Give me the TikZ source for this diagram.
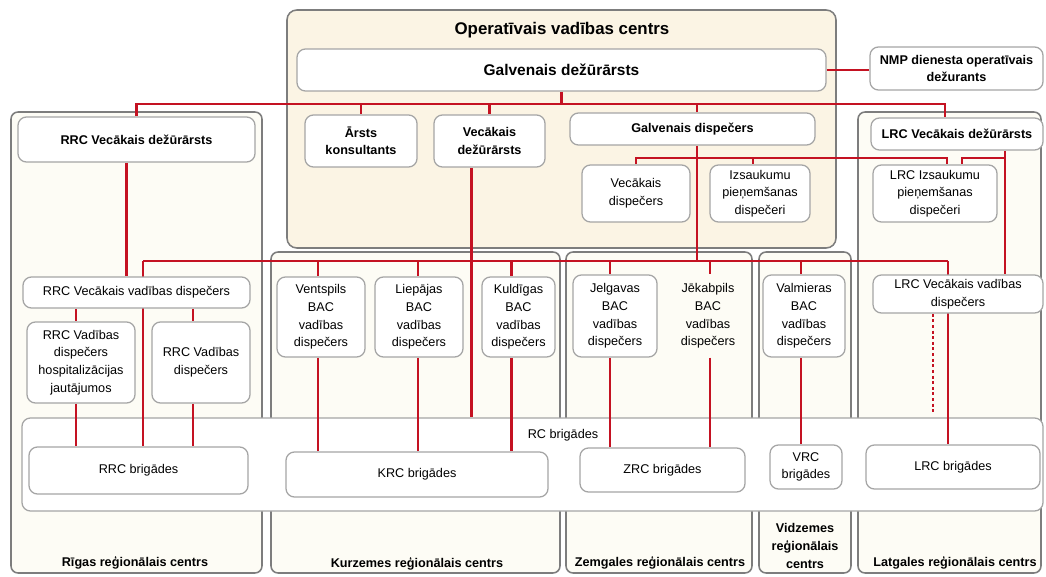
\documentclass[tikz,border=0pt]{standalone}
\usepackage{fontspec}
\setmainfont{Liberation Sans}
\usetikzlibrary{calc}
\definecolor{sarkans}{RGB}{196,18,34}
\definecolor{robeza}{RGB}{125,125,125}
\definecolor{kastemala}{RGB}{165,165,165}
\definecolor{ovcfons}{RGB}{251,244,228}
\definecolor{regfons}{RGB}{253,252,245}
\newlength{\pxl}
\setlength{\pxl}{0.025cm}
\pgfdeclarelayer{fons}
\pgfdeclarelayer{saites}
\pgfsetlayers{fons,saites,main}
\tikzset{
	kaste/.style={draw=kastemala, line width=0.9pt, rounded corners=6pt, fill=white, align=center, inner sep=1pt, font=\fontsize{9}{12.5}\selectfont},
	trekna/.style={kaste, font=\fontsize{9}{12.5}\selectfont\bfseries},
	regions/.style={draw=robeza, line width=1.1pt, rounded corners=5pt, fill=regfons},
	saite/.style={draw=sarkans, line width=2pt},
	punktota/.style={saite, dash pattern=on 2.2pt off 1.8pt},
	nosaukums/.style={font=\fontsize{9}{12.5}\selectfont\bfseries, align=center},
}

\begin{document}
\begin{tikzpicture}[x=\pxl, y=-\pxl]
	\useasboundingbox (0,0) rectangle (1046,577);
	\begin{pgfonlayer}{fons}
		\fill[white] (0,0) rectangle (1046,577);
		\node[regions, minimum width=251\pxl, minimum height=461\pxl] (riga) at (136.5,342.5) {};
		\node[regions, minimum width=289\pxl, minimum height=321\pxl] (kurz) at (415.5,412.5) {};
		\node[regions, minimum width=186\pxl, minimum height=321\pxl] (zemg) at (659,412.5) {};
		\node[regions, minimum width=92\pxl, minimum height=321\pxl] (vidz) at (805,412.5) {};
		\node[regions, minimum width=183\pxl, minimum height=461\pxl] (latg) at (949.5,342.5) {};
		\node[regions, fill=ovcfons, rounded corners=7pt, minimum width=549\pxl, minimum height=238\pxl] (ovc) at (561.5,129) {};
		\node[kaste, minimum width=1021\pxl, minimum height=93\pxl] (rcbrig) at (532.5,464.5) {};
	\end{pgfonlayer}

	\node[font=\fontsize{12}{14}\selectfont\bfseries] (ovcnos) at (562,30) {Operatīvais vadības centrs};
	\node[kaste, font=\fontsize{11}{13}\selectfont\bfseries, minimum width=529\pxl, minimum height=42\pxl] (gd) at (561.5,70) {Galvenais dežūrārsts};
	\node[trekna, minimum width=173\pxl, minimum height=43\pxl] (nmp) at (956.5,68.5) {NMP dienesta operatīvais\\dežurants};

	\node[trekna, minimum width=237\pxl, minimum height=45\pxl] (rrcvd) at (136.5,139.5) {RRC Vecākais dežūrārsts};
	\node[trekna, minimum width=112\pxl, minimum height=52\pxl] (arsts) at (361,141) {Ārsts\\konsultants};
	\node[trekna, minimum width=111\pxl, minimum height=52\pxl] (vecd) at (489.5,141) {Vecākais\\dežūrārsts};
	\node[trekna, minimum width=245\pxl, minimum height=32\pxl] (gdisp) at (692.5,129) {Galvenais dispečers};
	\node[kaste, minimum width=108\pxl, minimum height=57\pxl] (vdisp) at (636,193.5) {Vecākais\\dispečers};
	\node[kaste, minimum width=100\pxl, minimum height=57\pxl] (izs) at (760,193.5) {Izsaukumu\\pieņemšanas\\dispečeri};
	\node[trekna, minimum width=172\pxl, minimum height=32\pxl] (lrcvd) at (957,134) {LRC Vecākais dežūrārsts};
	\node[kaste, minimum width=124\pxl, minimum height=57\pxl] (lrcizs) at (935,193.5) {LRC Izsaukumu\\pieņemšanas\\dispečeri};

	\node[kaste, minimum width=227\pxl, minimum height=31\pxl] (rrcvvd) at (136.5,292.5) {RRC Vecākais vadības dispečers};
	\node[kaste, minimum width=108\pxl, minimum height=81\pxl] (rrchosp) at (81,362.5) {RRC Vadības\\dispečers\\hospitalizācijas\\jautājumos};
	\node[kaste, minimum width=98\pxl, minimum height=81\pxl] (rrcvad) at (201,362.5) {RRC Vadības\\dispečers};
	\node[kaste, minimum width=88\pxl, minimum height=80\pxl] (ventspils) at (321,317) {Ventspils\\BAC\\vadības\\dispečers};
	\node[kaste, minimum width=88\pxl, minimum height=80\pxl] (liepaja) at (419,317) {Liepājas\\BAC\\vadības\\dispečers};
	\node[kaste, minimum width=73\pxl, minimum height=80\pxl] (kuldiga) at (518.5,317) {Kuldīgas\\BAC\\vadības\\dispečers};
	\node[kaste, minimum width=84\pxl, minimum height=82\pxl] (jelgava) at (615,316) {Jelgavas\\BAC\\vadības\\dispečers};
	\node[kaste, draw=none, fill=none, minimum width=84\pxl, minimum height=82\pxl] (jekabpils) at (708,316) {Jēkabpils\\BAC\\vadības\\dispečers};
	\node[kaste, minimum width=82\pxl, minimum height=82\pxl] (valmiera) at (804,316) {Valmieras\\BAC\\vadības\\dispečers};
	\node[kaste, minimum width=170\pxl, minimum height=38\pxl] (lrcvvd) at (958,294) {LRC Vecākais vadības\\dispečers};

	\node[font=\fontsize{9}{12.5}\selectfont] (rctxt) at (563,435) {RC brigādes};
	\node[kaste, minimum width=219\pxl, minimum height=47\pxl] (rrcbr) at (138.5,470.5) {RRC brigādes};
	\node[kaste, minimum width=262\pxl, minimum height=45\pxl] (krcbr) at (417,474.5) {KRC brigādes};
	\node[kaste, minimum width=165\pxl, minimum height=44\pxl] (zrcbr) at (662.5,470) {ZRC brigādes};
	\node[kaste, minimum width=72\pxl, minimum height=44\pxl] (vrcbr) at (806,467) {VRC\\brigādes};
	\node[kaste, minimum width=174\pxl, minimum height=44\pxl] (lrcbr) at (953,467) {LRC brigādes};

	\node[nosaukums] (rigan) at (135,563) {Rīgas reģionālais centrs};
	\node[nosaukums] (kurzn) at (417,564) {Kurzemes reģionālais centrs};
	\node[nosaukums] (zemgn) at (660,563) {Zemgales reģionālais centrs};
	\node[nosaukums] (vidzn) at (805,546) {Vidzemes\\reģionālais\\centrs};
	\node[nosaukums] (latgn) at (955,563) {Latgales reģionālais centrs};

	\begin{pgfonlayer}{saites}
		\coordinate (b1) at (563,104);
		\coordinate (b2) at (697,261);
		\coordinate (b3) at (697,158);
		\coordinate (r2) at (143,261);
		\coordinate (l2) at (948,261);
		\draw[saite] (gd.east) -- (gd.east -| nmp.west);
		\draw[saite] (gd.south) -- (gd.south |- b1);
		\draw[saite] (rrcvd.north) |- (b1) -| ($(lrcvd.north)+(-12,0)$);
		\foreach \n in {arsts,vecd}
			\draw[saite] (b1 -| \n.north) -- (\n.north);
		\draw[saite] (b1 -| b2) -- (gdisp.north -| b2);
		\draw[saite] (gdisp.south -| b2) -- (b2);
		\draw[saite] (r2) -- (l2);
		\draw[saite] (r2) -- (r2 |- rrcbr.north);
		\draw[saite] (l2) -- (l2 |- lrcbr.north);
		\draw[saite] ($(rrcvd.south)+(-10,0)$) -- ($(rrcvvd.north)+(-10,0)$);
		\foreach \n/\d in {rrchosp/-5,rrcvad/-8} {
			\coordinate (p) at ($(\n.north)+(\d,0)$);
			\draw[saite] (rrcvvd.south -| p) -- (p);
			\draw[saite] (\n.south -| p) -- (rrcbr.north -| p);
		}
		\foreach \n/\d/\b in {ventspils/-3/krcbr, liepaja/-1/krcbr, kuldiga/-7/krcbr, jelgava/-5/zrcbr, jekabpils/2/zrcbr, valmiera/-3/vrcbr} {
			\coordinate (p) at ($(\n.north)+(\d,0)$);
			\draw[saite] (b2 -| p) -- (p);
			\draw[saite] (\n.south -| p) -- (\b.north -| p);
		}
		\coordinate (v) at ($(vecd.south)+(-18,0)$);
		\draw[saite] (v) -- (v |- rcbrig.north);
		\draw[saite] (vdisp.north) |- (b3) -| ($(lrcizs.north)+(12,0)$);
		\coordinate (iz) at ($(izs.north)+(-7,0)$);
		\draw[saite] (b3 -| iz) -- (iz);
		\coordinate (lv) at ($(lrcvd.south)+(48,0)$);
		\draw[saite] (lv) -- (lv |- lrcvvd.north);
		\draw[saite] (lv |- b3) -| ($(lrcizs.north)+(27,0)$);
		\coordinate (dt) at ($(lrcvvd.south)+(-25,0)$);
		\draw[punktota] (dt) -- ($(dt |- rcbrig.north)+(0,-5)$);
	\end{pgfonlayer}
\end{tikzpicture}
\end{document}
